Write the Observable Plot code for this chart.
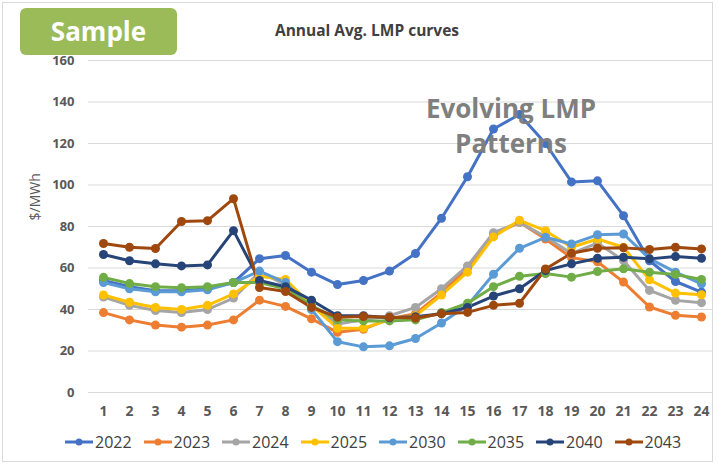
<!DOCTYPE html>
<html>
<head>
<meta charset="utf-8">
<script src="https://cdn.jsdelivr.net/npm/d3@7"></script>
<script src="https://cdn.jsdelivr.net/npm/@observablehq/plot@0.6"></script>
<style>
  html, body { margin: 0; padding: 0; background: #fff; }
  #wrap { position: relative; width: 718px; height: 465px; overflow: hidden; font-family: "Open Sans", "Liberation Sans", sans-serif; }
  #border { position: absolute; left: 2px; top: 2px; width: 711px; height: 460px; border: 1px solid #d9d9d9; box-sizing: border-box; }
  #chart { position: absolute; left: 0; top: 0; }
  #badge { position: absolute; left: 20px; top: 8px; width: 157px; height: 47px; background: #9BBB59; border-radius: 6px; color: #fff; font-weight: 700; font-size: 26px; line-height: 47px; text-align: center; }
  #title { position: absolute; left: 0; width: 734px; top: 19px; text-align: center; font-size: 15.5px; font-weight: 700; color: #404040; }
  #note { position: absolute; left: 390px; top: 91px; width: 242px; text-align: center; font-size: 26px; font-weight: 700; color: #7f7f7f; line-height: 35px; }
  #legend { position: absolute; left: 0; width: 718px; top: 431px; height: 22px; font-size: 16px; color: #404040; }
  #legend span { position: absolute; top: 0; display: inline-flex; align-items: center; gap: 1px; }
</style>
</head>
<body>
<div id="wrap">
  <div id="border"></div>
  <div id="chart"></div>
  <div id="badge">Sample</div>
  <div id="title">Annual Avg. LMP curves</div>
  <div id="note">Evolving LMP<br>Patterns</div>
  <div id="legend"></div>
</div>
<script>
const hours = [1,2,3,4,5,6,7,8,9,10,11,12,13,14,15,16,17,18,19,20,21,22,23,24];
const yTicks = [0,20,40,60,80,100,120,140,160];
const seriesNames = ["2022","2023","2024","2025","2030","2035","2040","2043"];
const seriesColors = ["#4472C4","#ED7D31","#A5A5A5","#FFC000","#5B9BD5","#70AD47","#264478","#9E480E"];

const v2022 = [54,51,49,49,50,53,64.5,66,58,52,54,58.5,67,84,104,127,134,120,101.5,102,85.2,63.5,53.5,48.4];
const v2023 = [38.5,35,32.5,31.5,32.5,35,44.5,41.5,35.5,29,30.5,35.5,38,48,60,76,82,74,65,63,53.2,41.2,37.2,36.4];
const v2024 = [46,42,39.5,38.5,40,45.5,58,52,42,33,35,37,41,50,61,77,82,75,67,72,63.6,49.2,44.4,43.3];
const v2025 = [47,43.5,41,40,42,47.5,56,54.5,42,31,31,35,37,47,58,75,83,78,70,74,70,54.3,47.9,47.1];
const v2030 = [53,50,48.5,48.5,49.5,53,58.5,53,40,24.5,22,22.5,26,33.5,42,57,69.5,74.8,71.6,76,76.4,64.5,58,52.4];
const v2035 = [55.5,52.5,51,50.5,51,53,53,50,42,35,34.5,34.5,35,38.5,43,51,56,57.3,55.6,58.3,59.6,58,56.9,54.5];
const v2040 = [66.5,63.5,62,61,61.5,78,54,51,44.5,37,37,36,36.5,38,41,46.5,50,58.8,62,64.7,65.2,64.4,65.5,64.7];
const v2043 = [71.8,70,69.4,82.4,82.8,93.4,50.6,48.7,41,36.3,36.6,36.3,35.9,38,38.6,42,43,59.5,67.1,69.5,69.7,68.9,70,69.2];

const seriesValues = [v2022,v2023,v2024,v2025,v2030,v2035,v2040,v2043];
const rows = [];
seriesNames.forEach((name, i) => {
  hours.forEach((h, j) => rows.push({series: name, hour: h, value: seriesValues[i][j]}));
});

const chart = Plot.plot({
  width: 718,
  height: 430,
  marginTop: 60,
  marginBottom: 38,
  marginLeft: 88,
  marginRight: 6,
  style: {fontFamily: "'Open Sans', 'Liberation Sans', sans-serif", fontSize: "13px", color: "#595959", background: "transparent"},
  x: {domain: [1 - 15/26, 24 + 11/26], ticks: hours, tickFormat: d => d, tickSize: 0, tickPadding: 14, label: null},
  y: {domain: [0, 160], ticks: yTicks, tickSize: 0, tickPadding: 14, label: null},
  color: {domain: seriesNames, range: seriesColors},
  marks: [
    Plot.ruleY(yTicks, {stroke: "#d9d9d9", strokeWidth: 1}),
    Plot.line(rows, {x: "hour", y: "value", z: "series", stroke: "series", strokeWidth: 3, curve: "linear"}),
    Plot.dot(rows, {x: "hour", y: "value", fill: "series", r: 4.5, stroke: null}),
    Plot.axisX({ticks: hours, tickFormat: d => d, tickSize: 0, tickPadding: 14, fontWeight: 700, fontSize: 14, label: null}),
    Plot.axisY({ticks: yTicks, tickSize: 0, tickPadding: 14, fontWeight: 700, fontSize: 13, label: null}),
    Plot.text(["$/MWh"], {frameAnchor: "left", dx: -53, dy: -6, rotate: -90, fontSize: 14, fill: "#595959"})
  ]
});
document.getElementById("chart").appendChild(chart);

const legend = document.getElementById("legend");
seriesNames.forEach((name, i) => {
  const c = seriesColors[i];
  const span = document.createElement("span");
  span.style.left = (64 + 78.5 * i) + "px";
  span.innerHTML = `<svg width="30" height="10"><line x1="1" y1="5" x2="29" y2="5" stroke="${c}" stroke-width="3"/><circle cx="15" cy="5" r="3.5" fill="${c}"/></svg>${name}`;
  legend.appendChild(span);
});
</script>
</body>
</html>
